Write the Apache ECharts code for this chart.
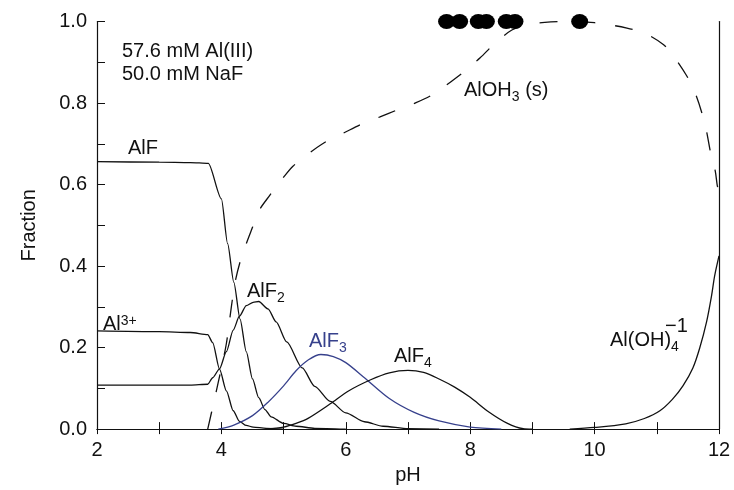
<!DOCTYPE html>
<html>
<head>
<meta charset="utf-8">
<script src="https://cdn.jsdelivr.net/npm/echarts@6/dist/echarts.min.js"></script>
<style>
  html, body { margin: 0; padding: 0; background: #fff; }
  #chart { width: 734px; height: 490px; }
</style>
</head>
<body>
<div id="chart"></div>
<script>
// species fractions vs pH as [pH, fraction]
const al3 = [[2, 0.241], [3, 0.239], [3.5, 0.237], [3.78, 0.232], [3.86, 0.212], [3.97, 0.147],
  [4.08, 0.094], [4.19, 0.045], [4.29, 0.019], [4.4, 0.009], [4.51, 0.005], [4.72, 0.002], [5.0, 0]];
const alF = [[2, 0.656], [3, 0.655], [3.5, 0.654], [3.79, 0.652], [4.0, 0.565], [4.1, 0.455],
  [4.2, 0.36], [4.3, 0.27], [4.4, 0.19], [4.5, 0.123], [4.6, 0.077], [4.7, 0.048], [4.8, 0.03],
  [5.0, 0.014], [5.2, 0.007], [5.5, 0.002], [6.0, 0]];
const alF2 = [[2, 0.108], [3, 0.108], [3.5, 0.108], [3.78, 0.11], [3.86, 0.126], [3.97, 0.148],
  [4.08, 0.19], [4.19, 0.243], [4.29, 0.277], [4.4, 0.303], [4.51, 0.311], [4.6, 0.313], [4.75, 0.295],
  [4.88, 0.263], [5.05, 0.214], [5.3, 0.15], [5.5, 0.105], [5.75, 0.068], [6.0, 0.04], [6.3, 0.018],
  [6.6, 0.007], [7.0, 0.001], [7.5, 0]];
const alF3 = [[3.95, 0], [4.2, 0.01], [4.5, 0.033], [4.75, 0.066], [5.0, 0.106], [5.2, 0.143],
  [5.4, 0.17], [5.6, 0.183], [5.8, 0.178], [6.0, 0.163], [6.3, 0.126], [6.7, 0.075], [7.1, 0.041],
  [7.5, 0.02], [8.0, 0.005], [8.5, 0]];
const alF4 = [[4.7, 0], [5.0, 0.005], [5.2, 0.014], [5.4, 0.027], [5.75, 0.062], [6.05, 0.094],
  [6.4, 0.121], [6.7, 0.138], [7.0, 0.144], [7.25, 0.139], [7.5, 0.123], [7.75, 0.103], [8.0, 0.078],
  [8.3, 0.042], [8.6, 0.014], [8.85, 0.001], [9.0, 0]];
const alOH4 = [[9.6, 0], [10, 0.004], [10.5, 0.013], [10.8, 0.026], [11.05, 0.045], [11.25, 0.073],
  [11.42, 0.106], [11.58, 0.15], [11.69, 0.199], [11.8, 0.263], [11.88, 0.327], [11.93, 0.376], [12, 0.425]];
const alOH3s = [[3.78, 0], [3.89, 0.074], [4.0, 0.15], [4.08, 0.21], [4.16, 0.3], [4.22, 0.36],
  [4.3, 0.41], [4.4, 0.455], [4.5, 0.495], [4.6, 0.535], [4.78, 0.574], [5.0, 0.618], [5.15, 0.645],
  [5.42, 0.678], [5.69, 0.706], [5.96, 0.726], [6.25, 0.748], [6.55, 0.766], [6.81, 0.782],
  [7.13, 0.801], [7.4, 0.821], [7.68, 0.851], [7.92, 0.879], [8.16, 0.911], [8.4, 0.947],
  [8.67, 0.979], [8.91, 0.992], [9.2, 0.998], [9.5, 1.0], [10.0, 0.997], [10.52, 0.984],
  [10.81, 0.971], [11.11, 0.943], [11.27, 0.915], [11.48, 0.867], [11.61, 0.827], [11.72, 0.778],
  [11.8, 0.73], [11.86, 0.682], [11.94, 0.633], [11.97, 0.6], [12, 0.578]];
// the black blobs sitting on the 1.0 line
const blobPH = [7.62, 7.83, 8.13, 8.26, 8.58, 8.72, 9.76];
const blobFrac = [1, 1, 1, 1, 1, 1, 1];

const FONT = 'Liberation Sans, Arial, Helvetica, sans-serif';
const INK = '#111';
const BLUE = '#37418c';

const chart = echarts.init(document.getElementById('chart'));

const evenOnly = (v) => (Math.round(v * 10) % 2 === 0 ? v.toFixed(1) : '');
const evenInt = (v) => (Math.round(v) % 2 === 0 ? String(Math.round(v)) : '');

const rich = {
  m: { fontSize: 20, lineHeight: 28, fontFamily: FONT },
  s: { fontSize: 14, lineHeight: 28, fontFamily: FONT, verticalAlign: 'bottom' },
  p: { fontSize: 14, lineHeight: 24, fontFamily: FONT, verticalAlign: 'top', padding: [4, 0, 0, 0] }
};

function lbl(left, top, text, color) {
  return {
    type: 'text', left: left, top: top, z: 100,
    style: { text: text, fill: color || INK, font: '20px ' + FONT, rich: rich }
  };
}

// kinked curves keep the monotone smoothing, the bell shapes use plain smoothing
function curve(name, data, extra) {
  return Object.assign({
    name: name, type: 'line', data: data, showSymbol: false, smooth: 0.3,
    lineStyle: { color: INK, width: 1.3 }, z: 5
  }, extra || {});
}

const option = {
  backgroundColor: '#fff',
  animation: false,
  grid: { left: 97, right: 15, top: 21.5, bottom: 54.5, containLabel: false },
  xAxis: [{
    type: 'value', min: 2, max: 12, interval: 1, position: 'bottom',
    name: 'pH', nameLocation: 'middle', nameGap: 31,
    nameTextStyle: { fontSize: 20, color: INK, fontFamily: FONT },
    axisLine: { show: true, lineStyle: { color: INK, width: 1.2 } },
    axisTick: { show: true, inside: true, length: 7, lineStyle: { color: INK } },
    axisLabel: { formatter: evenInt, fontSize: 20, color: INK, fontFamily: FONT, margin: 11 },
    splitLine: { show: false }
  }, {
    type: 'value', min: 2, max: 12, interval: 1, position: 'top',
    axisLine: { show: true, lineStyle: { color: INK, width: 1.2 } },
    axisTick: { show: true, inside: true, length: 5, lineStyle: { color: INK } },
    axisLabel: { show: false }, splitLine: { show: false }
  }],
  yAxis: [{
    type: 'value', min: 0, max: 1, interval: 0.1, position: 'left',
    name: 'Fraction', nameLocation: 'middle', nameGap: 58,
    nameTextStyle: { fontSize: 20, color: INK, fontFamily: FONT },
    axisLine: { show: true, lineStyle: { color: INK, width: 1.2 } },
    axisTick: { show: true, inside: true, length: 8, lineStyle: { color: INK } },
    axisLabel: { formatter: evenOnly, fontSize: 20, color: INK, fontFamily: FONT, margin: 10 },
    splitLine: { show: false }
  }, {
    type: 'value', min: 0, max: 1, position: 'right',
    axisLine: { show: true, lineStyle: { color: INK, width: 1.2 } },
    axisTick: { show: false }, axisLabel: { show: false }, splitLine: { show: false }
  }],
  series: [
    curve('Al3+', al3, { smooth: 0.25, smoothMonotone: 'x' }),
    curve('AlF', alF, { smooth: 0.25, smoothMonotone: 'x' }),
    curve('AlF2', alF2, { smooth: 0.25, smoothMonotone: 'x' }),
    curve('AlF3', alF3, { lineStyle: { color: BLUE, width: 1.3 } }),
    curve('AlF4', alF4),
    curve('Al(OH)4-', alOH4),
    curve('AlOH3(s)', alOH3s, { lineStyle: { color: INK, width: 1.3, type: [18, 20] } }),
    {
      name: 'blobs', type: 'scatter', clip: false, z: 10,
      data: blobPH.map((x, i) => [x, blobFrac[i]]),
      symbol: 'circle', symbolSize: [17, 15],
      itemStyle: { color: '#000', opacity: 1 }
    }
  ],
  graphic: [
    lbl(122, 41, '57.6 mM Al(III)'),
    lbl(122, 64, '50.0 mM NaF'),
    lbl(128, 138, '{m|AlF}'),
    lbl(103, 310, '{m|Al}{p|3+}'),
    lbl(247, 281, '{m|AlF}{s|2}'),
    lbl(309, 331, '{m|AlF}{s|3}', BLUE),
    lbl(394, 346, '{m|AlF}{s|4}'),
    lbl(610, 330, '{m|Al(OH)}{s|4}'),
    lbl(665, 316, '{m|−1}'),
    lbl(464, 80, '{m|AlOH}{s|3}{m| (s)}')
  ]
};

chart.setOption(option);
</script>
</body>
</html>
